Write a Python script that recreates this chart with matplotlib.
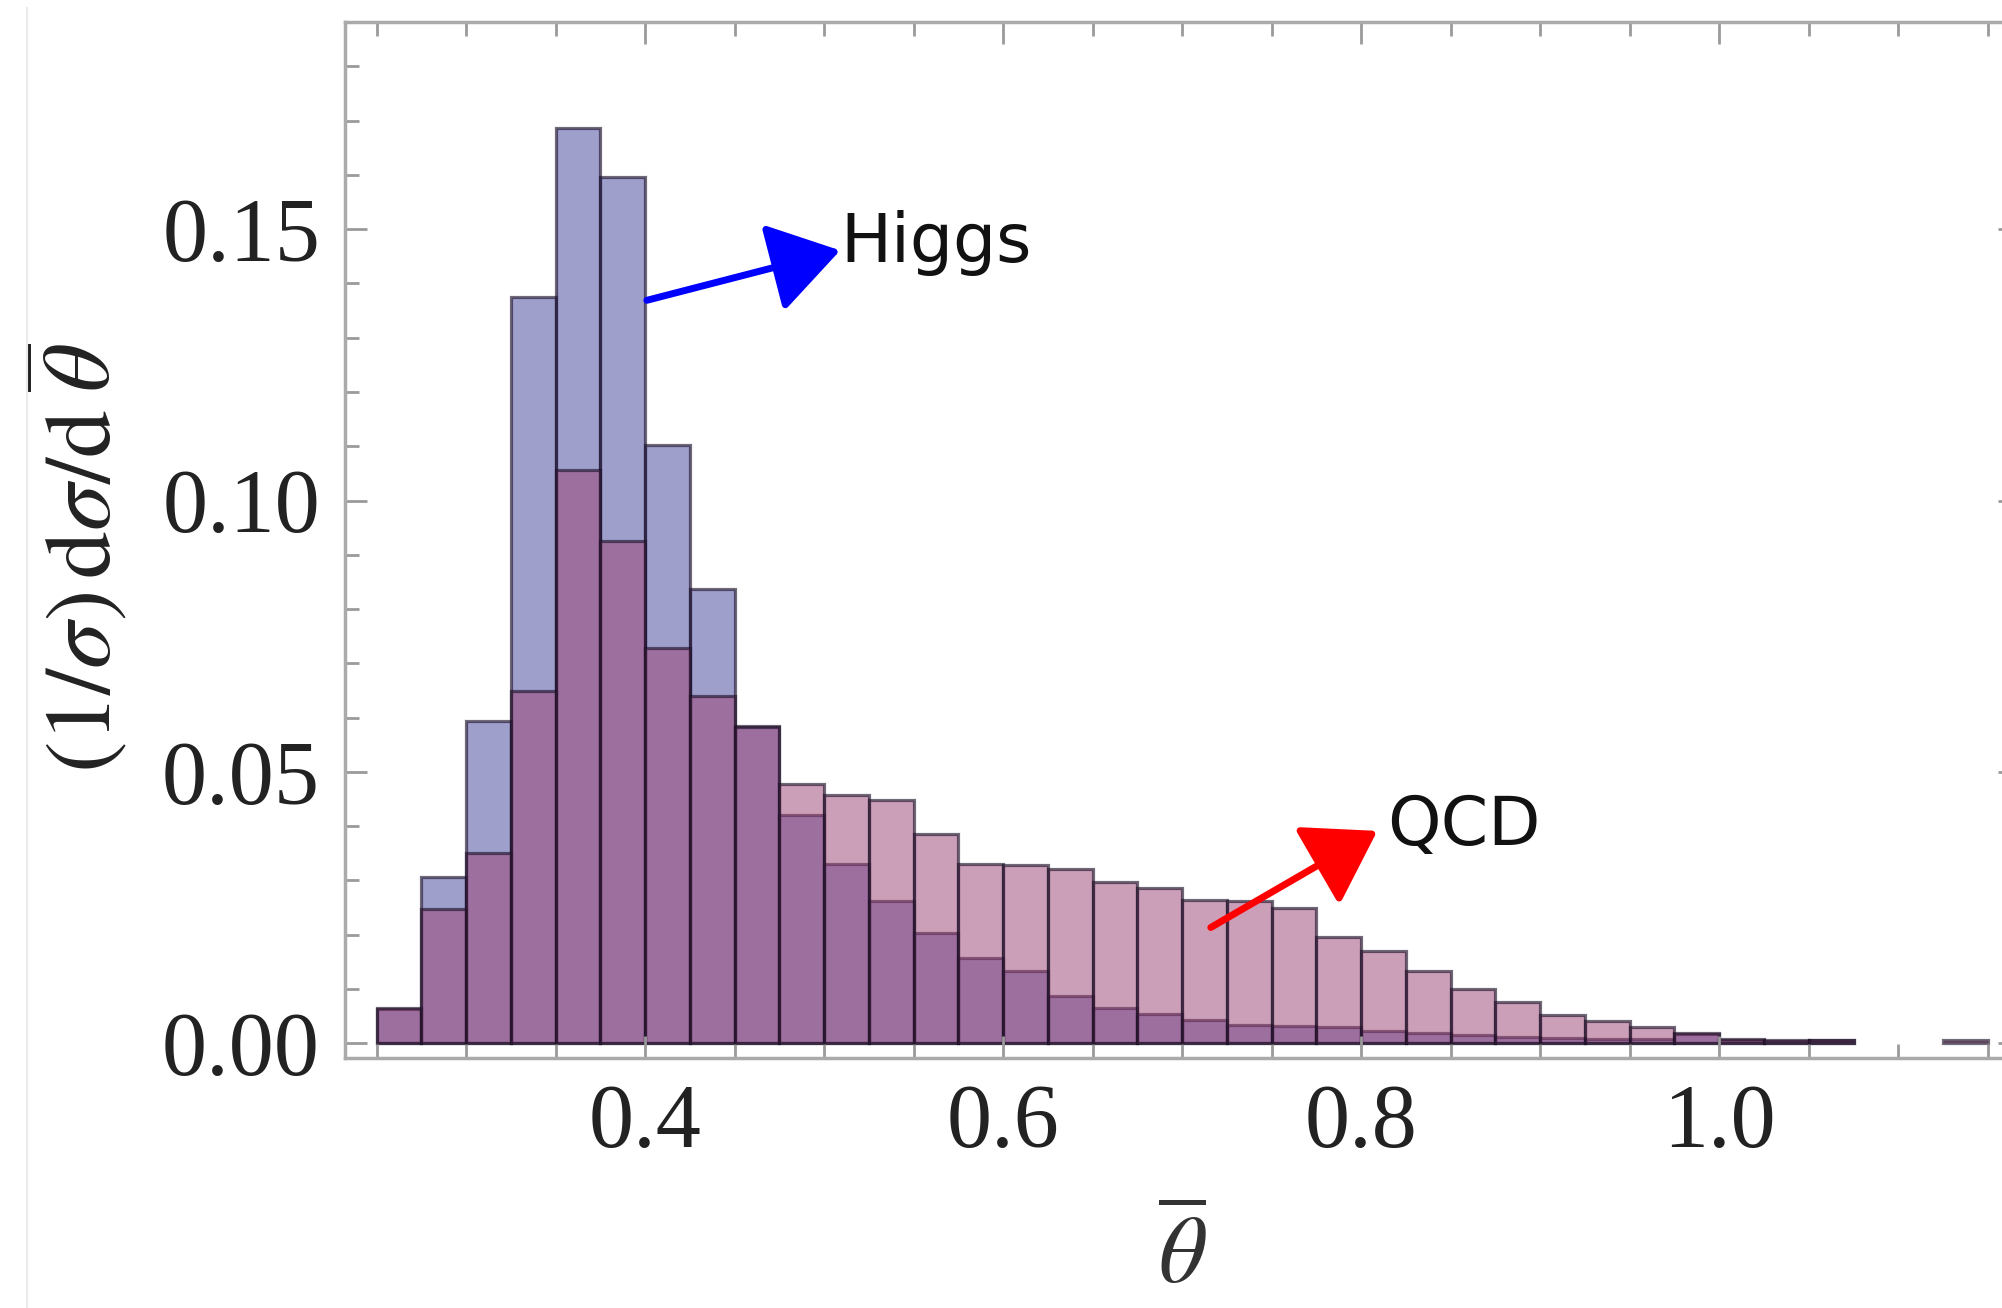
import numpy as np
import matplotlib.pyplot as plt
from matplotlib.lines import Line2D
from matplotlib.ticker import MultipleLocator
from matplotlib.colors import to_rgba

# histogram bins: width 0.025 starting at 0.25
bin_start = 0.25
bin_width = 0.025

higgs = [0.0062, 0.0306, 0.0593, 0.1376, 0.1687, 0.1597, 0.1102, 0.0836,
         0.0585, 0.0421, 0.0330, 0.0262, 0.0203, 0.0157, 0.0132, 0.0087,
         0.0065, 0.0053, 0.0043, 0.0034, 0.0032, 0.0029, 0.0022, 0.0018,
         0.0015, 0.0012, 0.0010, 0.0008, 0.0008, 0.0017, 0.0006, 0.0003,
         0.0005, 0.0, 0.0, 0.0]
qcd = [0.0065, 0.0247, 0.0351, 0.0648, 0.1056, 0.0925, 0.0729, 0.0640,
       0.0582, 0.0478, 0.0457, 0.0448, 0.0386, 0.0330, 0.0328, 0.0320,
       0.0296, 0.0285, 0.0263, 0.0261, 0.0248, 0.0195, 0.0170, 0.0133,
       0.0100, 0.0075, 0.0052, 0.0040, 0.0029, 0.0019, 0.0007, 0.0006,
       0.0006, 0.0, 0.0, 0.0006]

x_ticks = [0.4, 0.6, 0.8, 1.0]
x_ticklabels = ['0.4', '0.6', '0.8', '1.0']
y_ticks = [0.0, 0.05, 0.10, 0.15]
y_ticklabels = ['0.00', '0.05', '0.10', '0.15']

edges = bin_start + bin_width * np.arange(len(higgs))

plt.rcParams['font.family'] = ['Liberation Serif', 'DejaVu Serif']
plt.rcParams['mathtext.fontset'] = 'stix'

fig = plt.figure(figsize=(20.02, 13.08), dpi=100)
ax = fig.add_axes([345 / 2002, 250 / 1308, 1675 / 2002, 1036 / 1308])


def draw_hist(values, color):
    v = np.array(values)
    m = v > 0
    ax.bar(edges[m], v[m], width=bin_width, align='edge',
           color=to_rgba(color, 0.5), edgecolor=to_rgba('#1a0f26', 0.62),
           linewidth=2.3)


draw_hist(higgs, '#41419b')
draw_hist(qcd, '#9b4173')

ax.set_xlim(0.2324, 1.168)
ax.set_ylim(-0.00276, 0.1882)

ax.set_xticks(x_ticks)
ax.set_xticklabels(x_ticklabels)
ax.set_yticks(y_ticks)
ax.set_yticklabels(y_ticklabels)
ax.xaxis.set_minor_locator(MultipleLocator(0.05))
ax.yaxis.set_minor_locator(MultipleLocator(0.01))

ax.tick_params(which='both', direction='in', top=True,
               color='#9a9a9a', width=2)
ax.tick_params(which='major', right=True, length=16, labelsize=65,
               labelcolor='#222222')
ax.tick_params(which='minor', right=False, length=10)
ax.tick_params(axis='x', pad=18)
ax.tick_params(axis='y', pad=18)

for s in ax.spines.values():
    s.set_color('#aaaaaa')
    s.set_linewidth(2.5)

ax.set_xlabel(r'$\overline{\theta}$', fontsize=68, color='#333333')
ax.xaxis.set_label_coords(0.5, -0.148)
ax.set_ylabel(r'$(1/\sigma)\,\mathrm{d}\sigma/\mathrm{d}\;\overline{\theta}$',
              fontsize=68, color='#222222')
ax.yaxis.set_label_coords(-0.128, 0.4826)

# arrows + labels
ax.annotate('', xy=(0.509, 0.1461), xytext=(0.401, 0.1369),
            arrowprops=dict(arrowstyle='-|>,head_length=0.62,head_width=0.4',
                            mutation_scale=70, color='blue', lw=5,
                            shrinkA=0, shrinkB=0))
ax.text(0.509, 0.1439, 'Higgs', family='DejaVu Sans', fontsize=49,
        color='#111111', va='baseline')

ax.annotate('', xy=(0.809, 0.0391), xytext=(0.716, 0.0213),
            arrowprops=dict(arrowstyle='-|>,head_length=0.62,head_width=0.4',
                            mutation_scale=70, color='red', lw=5,
                            shrinkA=0, shrinkB=0))
ax.text(0.8145, 0.0365, 'QCD', family='DejaVu Sans', fontsize=49,
        color='#111111', va='baseline')

# faint frame line at the left edge of the picture
fig.add_artist(Line2D([27 / 2002, 27 / 2002], [0, 1 - 8 / 1308],
                      color='#ebebeb', lw=1.5))

fig.savefig('out.png', dpi=100)
